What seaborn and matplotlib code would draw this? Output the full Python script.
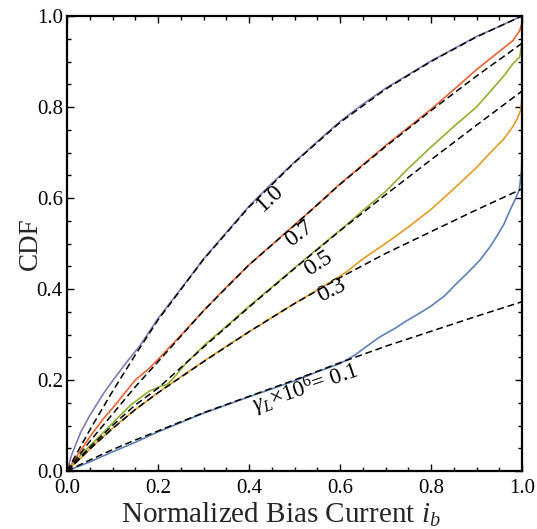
import numpy as np
import pandas as pd
import seaborn as sns
import matplotlib
matplotlib.use("Agg")
import matplotlib.pyplot as plt
from matplotlib.ticker import MultipleLocator

# ---------------- data ----------------
theory_x = [0, 0.05, 0.1, 0.15, 0.2, 0.3, 0.4, 0.5, 0.6, 0.7, 0.8, 0.9, 1.0]
theory_g10 = [0, 0.09, 0.175, 0.255, 0.332, 0.465, 0.580, 0.678, 0.766, 0.839, 0.900, 0.954, 1.0]
theory_g07 = [0, 0.065, 0.125, 0.185, 0.240, 0.352, 0.453, 0.540, 0.630, 0.713, 0.792, 0.868, 0.940]
theory_g05 = [0, 0.052, 0.100, 0.145, 0.182, 0.272, 0.360, 0.445, 0.528, 0.607, 0.684, 0.760, 0.835]
theory_g03 = [0, 0.048, 0.093, 0.135, 0.172, 0.240, 0.306, 0.368, 0.425, 0.478, 0.526, 0.574, 0.620]
theory_g01 = [0, 0.024, 0.047, 0.068, 0.088, 0.128, 0.164, 0.200, 0.238, 0.274, 0.307, 0.340, 0.372]

emp_g10_x = [0, 0.01, 0.03, 0.05, 0.08, 0.1, 0.13, 0.16, 0.2, 0.25, 0.3, 0.35, 0.4, 0.45,
             0.5, 0.55, 0.6, 0.65, 0.7, 0.75, 0.8, 0.85, 0.9, 0.95, 1.0]
emp_g10_y = [0, 0.035, 0.085, 0.122, 0.17, 0.198, 0.238, 0.275, 0.335, 0.40, 0.466, 0.524,
             0.582, 0.632, 0.679, 0.724, 0.768, 0.806, 0.841, 0.871, 0.901, 0.928, 0.955, 0.977, 1.0]

emp_g07_x = [0, 0.02, 0.05, 0.08, 0.1, 0.13, 0.15, 0.18, 0.2, 0.25, 0.3, 0.35, 0.4, 0.45, 0.5,
             0.55, 0.6, 0.65, 0.7, 0.75, 0.8, 0.85, 0.9, 0.95, 0.98, 0.995, 1.0, 1.0]
emp_g07_y = [0, 0.03, 0.075, 0.115, 0.138, 0.175, 0.2, 0.225, 0.245, 0.298, 0.352, 0.404, 0.453,
             0.497, 0.541, 0.585, 0.631, 0.673, 0.715, 0.755, 0.795, 0.838, 0.882, 0.922, 0.946,
             0.968, 0.985, 1.0]

emp_g05_x = [0, 0.03, 0.06, 0.1, 0.14, 0.18, 0.205, 0.22, 0.235, 0.26, 0.3, 0.35, 0.4, 0.45, 0.5,
             0.55, 0.6, 0.65, 0.7, 0.75, 0.8, 0.85, 0.9, 0.93, 0.96, 0.98, 0.995, 1.0, 1.0]
emp_g05_y = [0, 0.035, 0.065, 0.105, 0.145, 0.175, 0.186, 0.19, 0.205, 0.235, 0.275, 0.318, 0.362,
             0.404, 0.446, 0.488, 0.529, 0.572, 0.614, 0.665, 0.712, 0.757, 0.80, 0.834, 0.868, 0.895,
             0.91, 0.94, 1.0]

emp_g03_x = [0, 0.03, 0.06, 0.1, 0.15, 0.2, 0.25, 0.3, 0.35, 0.4, 0.45, 0.5, 0.55, 0.6, 0.62,
             0.65, 0.7, 0.75, 0.8, 0.85, 0.9, 0.93, 0.96, 0.98, 0.99, 0.997, 1.0, 1.0]
emp_g03_y = [0, 0.028, 0.058, 0.094, 0.135, 0.172, 0.207, 0.241, 0.274, 0.306, 0.337, 0.368,
             0.398, 0.428, 0.442, 0.466, 0.50, 0.536, 0.575, 0.62, 0.667, 0.699, 0.73, 0.757,
             0.775, 0.793, 0.82, 1.0]

emp_g01_x = [0, 0.05, 0.1, 0.15, 0.2, 0.3, 0.4, 0.5, 0.55, 0.6, 0.633, 0.66, 0.688, 0.72, 0.743,
             0.77, 0.798, 0.83, 0.853, 0.88, 0.908, 0.93, 0.944, 0.96, 0.974, 0.985, 0.994, 0.999,
             1.0, 1.0]
emp_g01_y = [0, 0.02, 0.042, 0.063, 0.086, 0.127, 0.163, 0.198, 0.218, 0.236, 0.255, 0.275, 0.295,
             0.313, 0.328, 0.344, 0.361, 0.385, 0.409, 0.435, 0.464, 0.493, 0.515, 0.542, 0.574,
             0.597, 0.618, 0.66, 0.70, 1.0]

curve_labels = ["1.0", "0.7", "0.5", "0.3", r"$\gamma_L$×10$^6$= 0.1"]
label_x = [0.446, 0.510, 0.552, 0.582, 0.525]
label_y = [0.600, 0.521, 0.457, 0.396, 0.180]
label_rot = [43, 38, 33, 27, 19]
label_size = [17, 17, 17, 17, 16.5]

tick_vals = [0.0, 0.2, 0.4, 0.6, 0.8, 1.0]
tick_labels = ["0.0", "0.2", "0.4", "0.6", "0.8", "1.0"]

colors = ["#8778B3", "#EB6235", "#8FB131", "#E19C24", "#5E81B5"]

# ---------------- figure ----------------
sns.set_theme(style="ticks")
plt.rcParams["font.family"] = ["Liberation Serif", "DejaVu Serif"]
plt.rcParams["mathtext.fontset"] = "custom"
plt.rcParams["mathtext.rm"] = "Liberation Serif"
plt.rcParams["mathtext.it"] = "Liberation Serif:italic"

fig = plt.figure(figsize=(5.37, 5.29), dpi=100)
ax = fig.add_axes([67 / 537, (529 - 471) / 529, 455 / 537, 455 / 529])

emp_sets = [(emp_g10_x, emp_g10_y), (emp_g07_x, emp_g07_y), (emp_g05_x, emp_g05_y),
            (emp_g03_x, emp_g03_y), (emp_g01_x, emp_g01_y)]
theory_sets = [theory_g10, theory_g07, theory_g05, theory_g03, theory_g01]

for (ex, ey), c in zip(emp_sets, colors):
    df = pd.DataFrame({"x": ex, "y": ey})
    sns.lineplot(data=df, x="x", y="y", color=c, lw=1.2, estimator=None, sort=False, ax=ax)

for ty in theory_sets:
    df = pd.DataFrame({"x": theory_x, "y": ty})
    sns.lineplot(data=df, x="x", y="y", color="black", lw=1.1, estimator=None, sort=False,
                 ax=ax, linestyle=(0, (4.5, 2.5)))

for t, lx, ly, r, fs in zip(curve_labels, label_x, label_y, label_rot, label_size):
    ax.text(lx, ly, t, rotation=r, rotation_mode="anchor", ha="center", va="center",
            fontsize=fs, color="black")

ax.set_xlim(0, 1)
ax.set_ylim(0, 1)
ax.set_xticks(tick_vals)
ax.set_xticklabels(tick_labels)
ax.set_yticks(tick_vals)
ax.set_yticklabels(tick_labels)
ax.xaxis.set_minor_locator(MultipleLocator(0.05))
ax.yaxis.set_minor_locator(MultipleLocator(0.05))
ax.tick_params(which="both", direction="in", top=True, right=True, colors="black",
               labelsize=15, width=1.0)
ax.tick_params(which="major", length=5)
ax.tick_params(axis="x", which="major", pad=6)
ax.tick_params(axis="y", which="major", pad=3)
ax.tick_params(which="minor", length=3)
for s in ax.spines.values():
    s.set_visible(True)
    s.set_linewidth(1.6)
    s.set_color("black")

ax.set_xlabel("Normalized Bias Current $i_b$", fontsize=21)
ax.xaxis.set_label_coords(0.47, -0.066)
ax.set_ylabel("CDF", fontsize=19.5)
ax.yaxis.set_label_coords(-0.054, 0.5)

fig.savefig("out.png", dpi=100)
